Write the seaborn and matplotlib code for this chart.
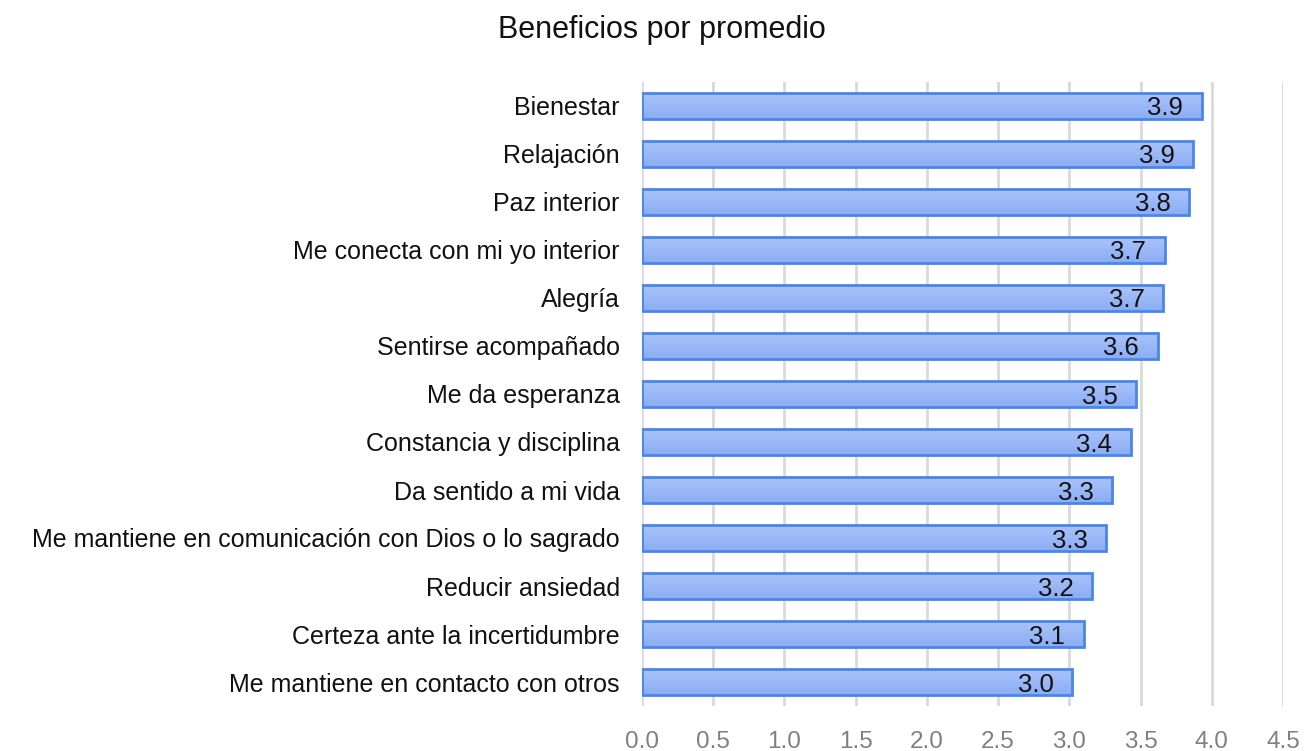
import numpy as np
import pandas as pd
import matplotlib
matplotlib.use("Agg")
import matplotlib.pyplot as plt
import seaborn as sns
from matplotlib.colors import LinearSegmentedColormap

categories = [
    "Bienestar",
    "Relajación",
    "Paz interior",
    "Me conecta con mi yo interior",
    "Alegría",
    "Sentirse acompañado",
    "Me da esperanza",
    "Constancia y disciplina",
    "Da sentido a mi vida",
    "Me mantiene en comunicación con Dios o lo sagrado",
    "Reducir ansiedad",
    "Certeza ante la incertidumbre",
    "Me mantiene en contacto con otros",
]
values = [3.93, 3.87, 3.84, 3.67, 3.66, 3.62, 3.47, 3.43, 3.30, 3.26, 3.16, 3.10, 3.02]
x_ticks = [0.0, 0.5, 1.0, 1.5, 2.0, 2.5, 3.0, 3.5, 4.0, 4.5]
title = "Beneficios por promedio"

df = pd.DataFrame({"cat": categories, "val": values})

sns.set_style("white")
plt.rcParams["font.family"] = ["Liberation Sans", "DejaVu Sans"]

fig = plt.figure(figsize=(13.14, 7.51), dpi=100)
ax = fig.add_axes([642/1314, 1-706/751, 641/1314, 624/751])

sns.barplot(data=df, x="val", y="cat", orient="h", ax=ax,
            color="#9db8f6", edgecolor="#4a86e8", linewidth=2, width=0.55,
            zorder=3)

# gradient fill clipped to each bar
cmap = LinearSegmentedColormap.from_list("g", ["#abc4f9", "#8badf5"])
grad = np.linspace(0, 1, 64).reshape(-1, 1)
for p in list(ax.patches):
    x0, y0 = p.get_x(), p.get_y()
    w, h = p.get_width(), p.get_height()
    im = ax.imshow(grad, cmap=cmap, aspect="auto",
                   extent=(x0, x0 + w, y0 + h, y0), origin="upper",
                   zorder=3.5, interpolation="bilinear")
    im.set_clip_path(p)
    p.set_facecolor("none")
    p.set_zorder(4)

for i, v in enumerate(values):
    ax.text(v - 0.13, i, f"{v:.1f}", ha="right", va="center_baseline",
            fontsize=18.5, color="#111111", zorder=5)

ax.set_xlim(0, 4.5)
ax.set_ylim(len(categories) - 0.5, -0.5)
ax.set_xticks(x_ticks)
ax.set_xticklabels([f"{t:.1f}" for t in x_ticks], color="#808080", fontsize=17.5)
ax.tick_params(axis="x", length=0, pad=18)
ax.tick_params(axis="y", length=0, pad=16, labelsize=18, labelcolor="#111111")
ax.set_xlabel("")
ax.set_ylabel("")
ax.grid(axis="x", color="#d9d9d9", linewidth=2, zorder=0)
ax.grid(axis="y", visible=False)
for s in ax.spines.values():
    s.set_visible(False)

fig.text(662/1314, 1-30/751, title, ha="center", va="center", fontsize=22, color="#111111")

fig.savefig("out.png", dpi=100)
